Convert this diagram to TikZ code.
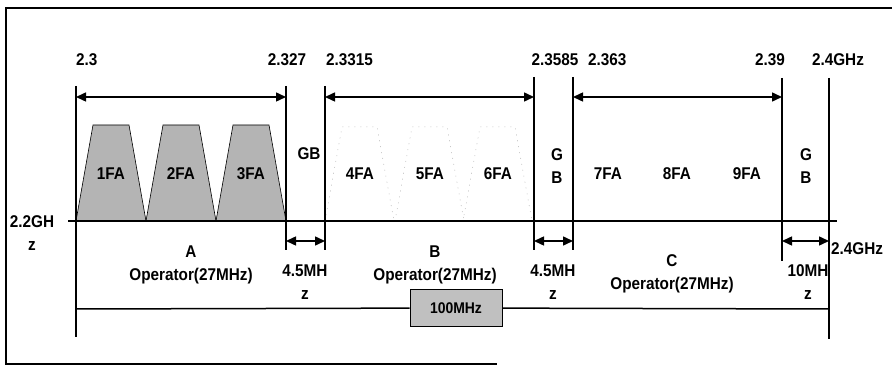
\documentclass[tikz,border=0pt]{standalone}
\usepackage{fontspec}
\setmainfont{Liberation Sans}[FakeStretch=0.9]
\usetikzlibrary{arrows.meta, positioning}
\definecolor{fagray}{RGB}{180,180,180}
\definecolor{boxgray}{RGB}{192,192,192}

\begin{document}
\begin{tikzpicture}[
    x=1pt, y=-1pt,
    lbl/.style={font=\fontsize{17}{23}\selectfont\bfseries, inner sep=0pt, align=center},
    fafill/.style={draw, line width=0.6pt, fill=fagray},
    faghost/.style={draw=gray!60, line width=0.5pt, dash pattern=on 1pt off 5pt},
    bandline/.style={line width=1.5pt},
    span/.style={{Triangle[length=10pt,width=9pt]}-{Triangle[length=10pt,width=9pt]}, line width=1.5pt}
]
\useasboundingbox (0,0) rectangle (892,366);

% frame
\draw[line width=1.4pt] (892,8) -- (6,8) -- (6,364) -- (497,364);

% FA blocks
\draw[fafill] (76,221) -- (93,125) -- (129,125) -- (146,221) -- cycle;
\draw[fafill] (146,221) -- (163,125) -- (199,125) -- (216,221) -- cycle;
\draw[fafill] (216,221) -- (233,125) -- (269,125) -- (286,221) -- cycle;
\draw[faghost] (325,221) -- (342,127) -- (377,127) -- (394,221);
\draw[faghost] (395,221) -- (412,127) -- (447,127) -- (464,221);
\draw[faghost] (463,221) -- (480,127) -- (515,127) -- (532,221);
\node[lbl] (fa1) at (111,174) {1FA};
\node[lbl] (fa2) at (181,174) {2FA};
\node[lbl] (fa3) at (251,174) {3FA};
\node[lbl] (fa4) at (360,174) {4FA};
\node[lbl] (fa5) at (430,174) {5FA};
\node[lbl] (fa6) at (498,174) {6FA};
\node[lbl] (fa7) at (608,174) {7FA};
\node[lbl] (fa8) at (677,174) {8FA};
\node[lbl] (fa9) at (747,174) {9FA};

% band edges
\coordinate (e1t) at (76,86);   \coordinate (e1b) at (76,337);
\coordinate (e2t) at (286,86);  \coordinate (e2b) at (286,250);
\coordinate (e3t) at (325,86);  \coordinate (e3b) at (325,250);
\coordinate (e4t) at (534,77);  \coordinate (e4b) at (534,250);
\coordinate (e5t) at (573,77);  \coordinate (e5b) at (573,250);
\coordinate (e6t) at (782,78);  \coordinate (e6b) at (782,261);
\coordinate (e7t) at (829,78);  \coordinate (e7b) at (829,339);
\draw[bandline] (e1t) -- (e1b);
\draw[bandline] (e2t) -- (e2b);
\draw[bandline] (e3t) -- (e3b);
\draw[bandline] (e4t) -- (e4b);
\draw[bandline] (e5t) -- (e5b);
\draw[bandline] (e6t) -- (e6b);
\draw[bandline] (e7t) -- (e7b);

% frequency axis
\coordinate (axl) at (68,221);
\coordinate (axr) at (837,221);
\draw[line width=2.2pt] (axl) -- (axr);

% operator spans
\coordinate (sa1) at (76,97);   \coordinate (sa2) at (286,97);
\coordinate (sb1) at (325,97);  \coordinate (sb2) at (534,97);
\coordinate (sc1) at (573,97);  \coordinate (sc2) at (782,97);
\draw[span] (sa1) -- (sa2);
\draw[span] (sb1) -- (sb2);
\draw[span] (sc1) -- (sc2);

% guard spans
\coordinate (g1a) at (286,241); \coordinate (g1b) at (325,241);
\coordinate (g2a) at (534,241); \coordinate (g2b) at (573,241);
\coordinate (g3a) at (782,241); \coordinate (g3b) at (829,241);
\draw[span] (g1a) -- (g1b);
\draw[span] (g2a) -- (g2b);
\draw[span] (g3a) -- (g3b);

% frequency marks
\node[lbl, anchor=base west] (f0) at (76,66) {2.3};
\node[lbl, anchor=base] (f1) at (287,66) {2.327};
\node[lbl, anchor=base west] (f2) at (326,66) {2.3315};
\node[lbl, anchor=base] (f3) at (555,66) {2.3585};
\node[lbl, anchor=base west] (f4) at (588,66) {2.363};
\node[lbl, anchor=base east] (f5) at (785,66) {2.39};
\node[lbl, anchor=base] (f6) at (838,66) {2.4GHz};

% guard bands
\node[lbl] (gb1) at (309,154) {GB};
\node[lbl] (gb2) at (557,166) {G\\B};
\node[lbl] (gb3) at (806,166) {G\\B};

% lower labels
\node[lbl] (lo) at (32,233) {2.2GH\\z};
\node[lbl, anchor=base west] (hi) at (831,255) {2.4GHz};
\node[lbl] (opa) at (191,265) {A\\Operator(27MHz)};
\node[lbl] (opb) at (435,265) {B\\Operator(27MHz)};
\node[lbl] (opc) at (672,274) {C\\Operator(27MHz)};
\node[lbl] (gap1) at (305,282) {4.5MH\\z};
\node[lbl] (gap2) at (553,282) {4.5MH\\z};
\node[lbl] (gap3) at (808,282) {10MH\\z};

% total band
\node[draw, line width=0.8pt, fill=boxgray, minimum width=92pt, minimum height=37pt, inner sep=0pt, font=\fontsize{15.5}{16}\selectfont\bfseries] (total) at (456,308) {100MHz};
\coordinate (tl) at (76,309);
\coordinate (tr) at (829,309);
\draw[bandline] (tl) -- (total) -- (tr);
\end{tikzpicture}
\end{document}
